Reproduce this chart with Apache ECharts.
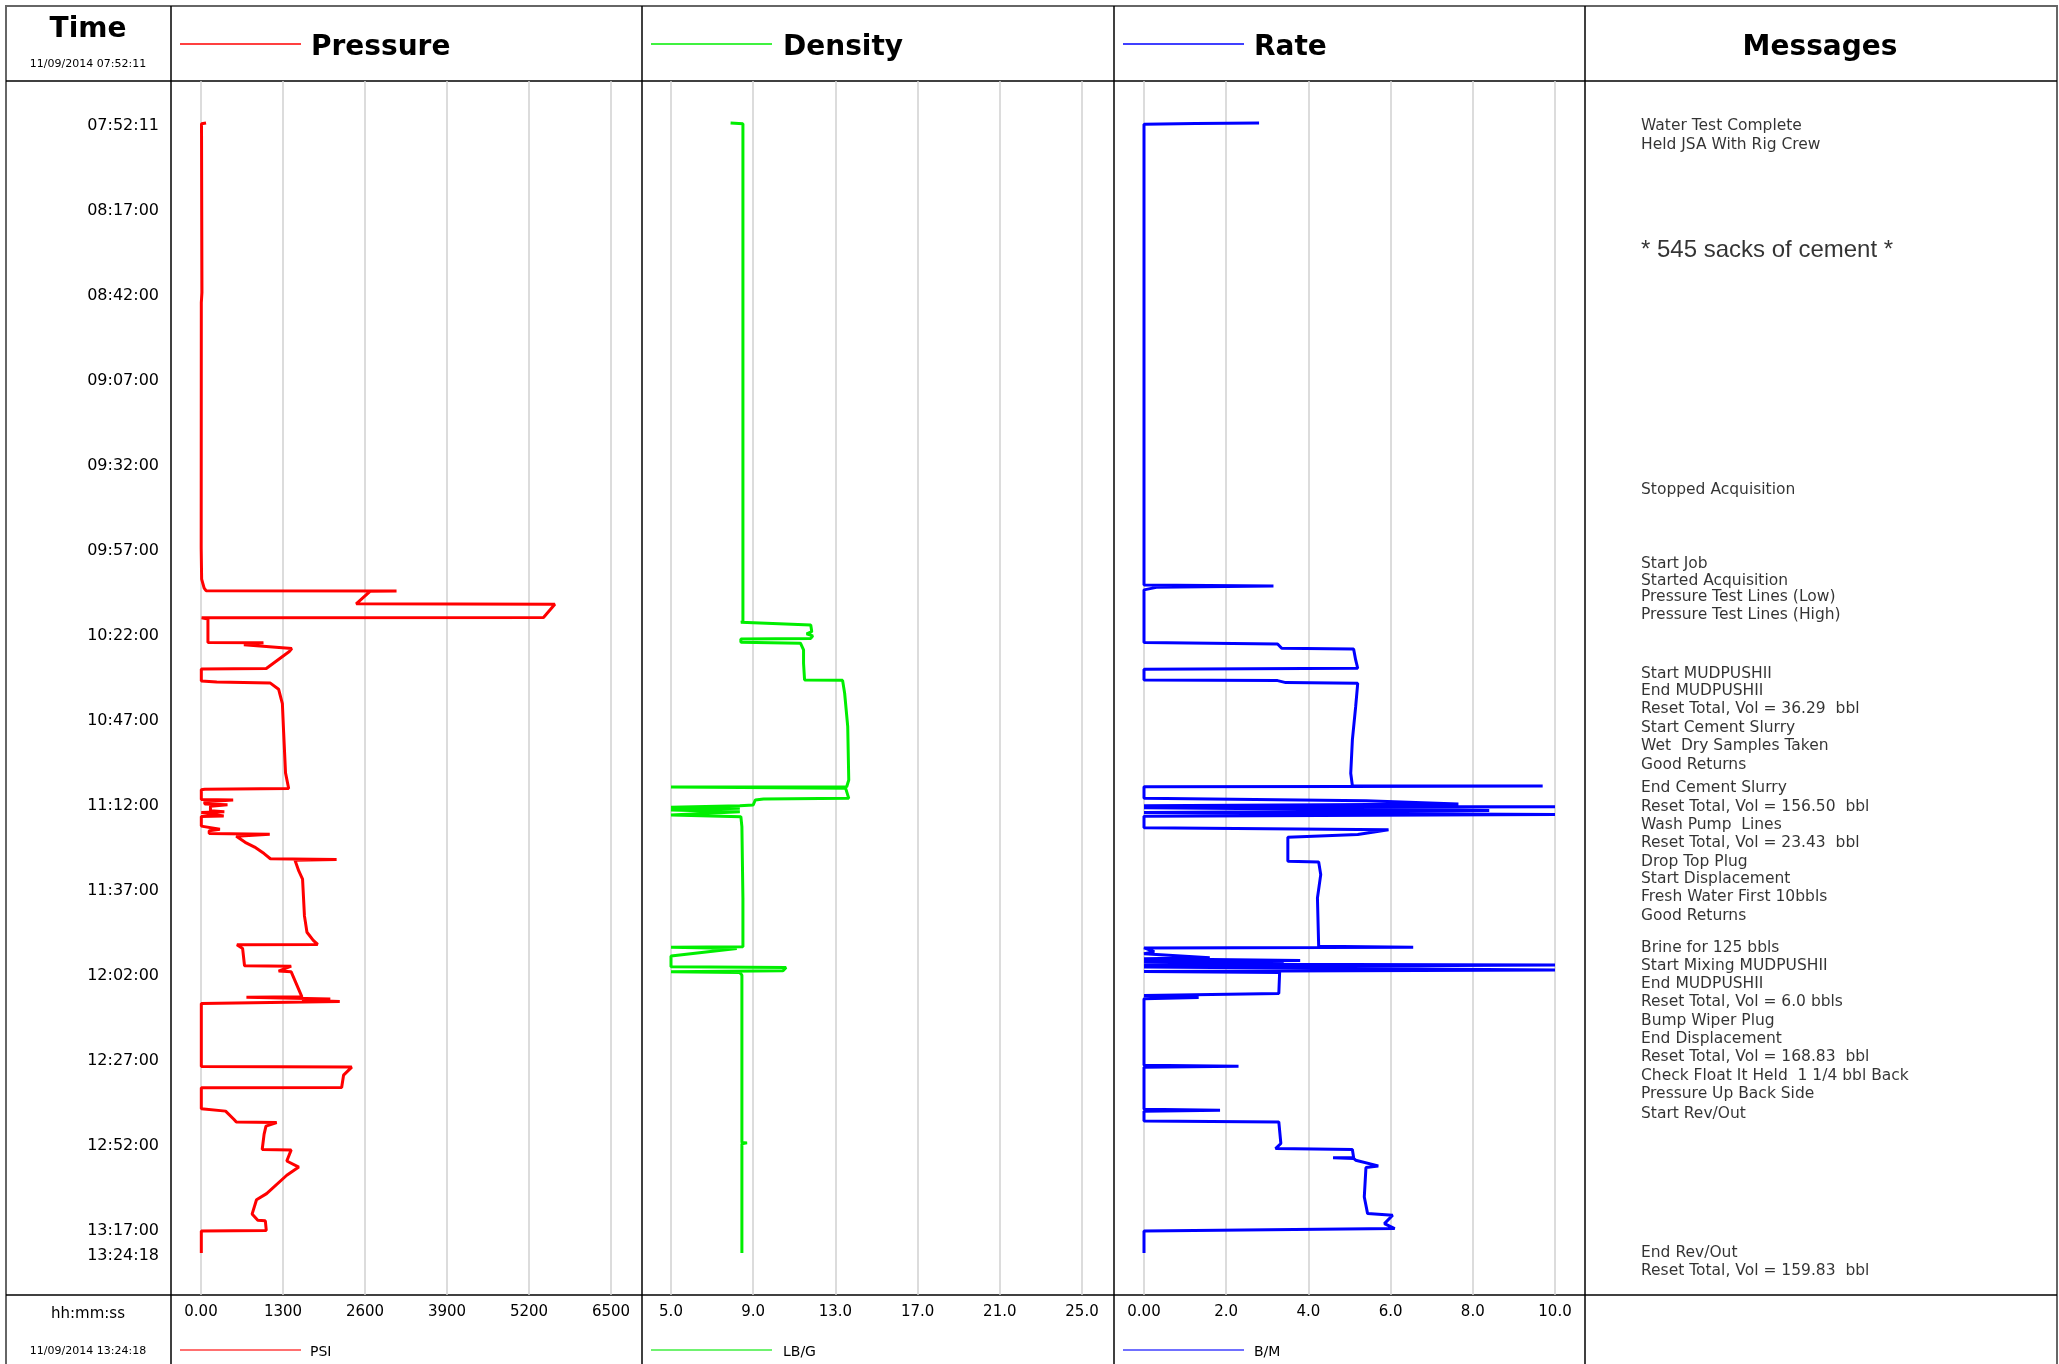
<!DOCTYPE html>
<html>
<head>
<meta charset="utf-8">
<script src="https://cdn.jsdelivr.net/npm/echarts@6/dist/echarts.min.js"></script>
<style>
  html, body { margin: 0; padding: 0; background: #fff; }
  #chart { width: 2059px; height: 1364px; }
</style>
</head>
<body>
<div id="chart"></div>
<script>
// time labels on the left column
const timeLabels = ["07:52:11", "08:17:00", "08:42:00", "09:07:00", "09:32:00", "09:57:00",
  "10:22:00", "10:47:00", "11:12:00", "11:37:00", "12:02:00", "12:27:00",
  "12:52:00", "13:17:00", "13:24:18"];
const startTime = "07:52:11";
const endTime = "13:24:18";

// x axis ticks of the three tracks [min, max, step]
const pressureTicks = [0, 6500, 1300];
const densityTicks = [5, 25, 4];
const rateTicks = [0, 10, 2];

// pressure, PSI  [time, value]
const pressure = [
  ["07:52:11", 80], ["07:52:25", 8], ["08:42:00", 15], ["08:45:00", 5], ["09:57:00", 3],
  ["10:06:14", 10], ["10:08:52", 50], ["10:09:38", 80], ["10:09:42", 3100], ["10:09:50", 2680],
  ["10:13:30", 2460], ["10:13:38", 5610], ["10:17:30", 5430], ["10:17:36", 10], ["10:18:00", 110],
  ["10:24:50", 110], ["10:24:56", 990], ["10:25:30", 680], ["10:26:40", 1440], ["10:27:30", 1400],
  ["10:32:30", 1035], ["10:32:40", 5], ["10:36:12", 5], ["10:36:30", 250], ["10:36:48", 1100],
  ["10:38:36", 1230], ["10:42:48", 1290], ["10:51:12", 1310], ["11:03:12", 1340], ["11:07:48", 1390],
  ["11:08:00", 60], ["11:08:10", 5], ["11:11:00", 5], ["11:11:10", 510], ["11:11:40", 60],
  ["11:12:20", 60], ["11:12:34", 420], ["11:13:00", 150], ["11:14:20", 150], ["11:14:37", 370],
  ["11:14:50", 5], ["11:15:50", 360], ["11:16:00", 5], ["11:18:50", 5], ["11:19:46", 300],
  ["11:20:10", 130], ["11:21:00", 130], ["11:21:13", 1090], ["11:21:49", 560], ["11:23:36", 700],
  ["11:25:00", 850], ["11:26:54", 1000], ["11:28:25", 1100], ["11:28:40", 2150], ["11:28:50", 1490],
  ["11:32:01", 1550], ["11:34:25", 1610], ["11:45:13", 1640], ["11:50:01", 1680], ["11:52:25", 1780],
  ["11:53:36", 1850], ["11:53:42", 570], ["11:54:50", 660], ["11:59:52", 690], ["12:00:00", 1430],
  ["12:01:26", 1230], ["12:01:40", 1430], ["12:09:00", 1600], ["12:09:10", 720], ["12:09:40", 2050],
  ["12:10:00", 1600], ["12:10:25", 2200], ["12:11:00", 5], ["12:29:30", 5], ["12:29:40", 2390],
  ["12:32:02", 2260], ["12:35:38", 2230], ["12:35:45", 5], ["12:41:53", 5], ["12:42:36", 390],
  ["12:45:00", 520], ["12:45:50", 560], ["12:45:58", 1200], ["12:47:02", 1030], ["12:49:26", 1000],
  ["12:53:53", 970], ["12:54:00", 1430], ["12:57:15", 1360], ["12:59:03", 1550], ["13:01:27", 1360],
  ["13:06:51", 1040], ["13:08:39", 880], ["13:12:52", 810], ["13:14:40", 900], ["13:14:50", 1020],
  ["13:17:40", 1035], ["13:17:50", 5], ["13:24:18", 5]
];

// density, LB/G
const density = [
  ["07:52:11", 7.9], ["07:52:25", 8.5], ["08:42:00", 8.5], ["10:18:44", 8.5], ["10:18:54", 8.4],
  ["10:19:42", 11.8], ["10:21:40", 11.85], ["10:22:20", 11.6], ["10:22:56", 11.9], ["10:23:40", 11.8],
  ["10:23:49", 8.4], ["10:24:47", 8.4], ["10:25:05", 11.3], ["10:27:03", 11.45], ["10:30:58", 11.45],
  ["10:35:52", 11.5], ["10:36:00", 13.35], ["10:39:47", 13.45], ["10:49:36", 13.6], ["11:05:17", 13.65],
  ["11:07:15", 13.55], ["11:07:20", 5.0], ["11:07:44", 13.5], ["11:10:40", 13.65], ["11:10:52", 9.5],
  ["11:11:10", 9.1], ["11:12:38", 9.0], ["11:12:50", 8.35], ["11:13:18", 5.0], ["11:13:36", 8.35],
  ["11:14:06", 5.0], ["11:14:35", 8.35], ["11:15:34", 5.0], ["11:16:03", 8.4], ["11:16:32", 8.35],
  ["11:18:59", 8.45], ["11:40:00", 8.5], ["11:54:18", 8.5], ["11:54:25", 5.0], ["11:54:47", 8.2],
  ["11:57:00", 5.0], ["12:00:10", 5.0], ["12:00:22", 10.6], ["12:01:22", 10.45], ["12:01:39", 5.0],
  ["12:01:51", 8.35], ["12:02:38", 8.45], ["12:51:50", 8.45], ["12:51:56", 8.7], ["12:52:10", 8.45],
  ["13:24:18", 8.45]
];

// rate, B/M
const rate = [
  ["07:52:11", 2.8], ["07:52:20", 1.25], ["07:52:35", 0.0], ["10:07:56", 0.0], ["10:08:14", 3.15],
  ["10:08:40", 0.3], ["10:08:55", 0.3], ["10:09:24", 0.0], ["10:24:54", 0.0], ["10:25:17", 3.25],
  ["10:26:33", 3.35], ["10:26:45", 5.1], ["10:30:00", 5.15], ["10:32:26", 5.2], ["10:32:43", 0.0],
  ["10:35:52", 0.0], ["10:36:04", 3.25], ["10:36:39", 3.45], ["10:36:51", 5.2], ["10:43:43", 5.15],
  ["10:53:31", 5.07], ["11:03:19", 5.03], ["11:06:58", 5.07], ["11:07:03", 9.7], ["11:07:10", 5.0],
  ["11:07:15", 0.0], ["11:10:40", 0.0], ["11:11:21", 5.4], ["11:12:20", 7.65], ["11:12:50", 0.0],
  ["11:13:08", 10.0], ["11:13:26", 0.0], ["11:14:14", 8.4], ["11:14:50", 0.0], ["11:15:24", 10.0],
  ["11:15:54", 0.0], ["11:19:21", 0.0], ["11:19:56", 5.95], ["11:21:18", 5.2], ["11:22:05", 3.5],
  ["11:29:09", 3.5], ["11:29:21", 4.25], ["11:33:05", 4.3], ["11:39:58", 4.22], ["11:54:10", 4.25],
  ["11:54:25", 6.55], ["11:54:38", 0.0], ["11:55:45", 0.25], ["11:56:20", 0.0], ["11:57:31", 1.6],
  ["11:57:50", 0.0], ["11:58:18", 3.8], ["11:58:40", 0.0], ["11:59:05", 3.4], ["11:59:20", 0.0],
  ["11:59:40", 10.0], ["12:00:16", 0.0], ["12:01:09", 10.0], ["12:01:33", 0.0], ["12:01:51", 3.3],
  ["12:08:02", 3.28], ["12:08:39", 0.0], ["12:09:12", 1.33], ["12:09:36", 0.0], ["12:29:07", 0.0],
  ["12:29:24", 2.3], ["12:29:42", 0.0], ["12:42:04", 0.0], ["12:42:22", 1.85], ["12:42:40", 0.0],
  ["12:45:29", 0.0], ["12:45:47", 3.28], ["12:52:07", 3.33], ["12:53:36", 3.2], ["12:53:53", 5.07],
  ["12:56:15", 5.1], ["12:56:20", 4.6], ["12:56:30", 5.1], ["12:57:02", 5.15], ["12:58:42", 5.7],
  ["12:59:11", 5.4], ["13:07:49", 5.36], ["13:12:43", 5.44], ["13:13:13", 6.05], ["13:15:40", 5.85],
  ["13:17:08", 6.1], ["13:17:50", 0.0], ["13:24:18", 0.0]
];

// event messages  [time, text]
const messages = [
  ["07:52:11", "Water Test Complete"],
  ["07:57:39", "Held JSA With Rig Crew"],
  ["08:28:50", "* 545 sacks of cement *"],
  ["09:39:07", "Stopped Acquisition"],
  ["10:00:52", "Start Job"],
  ["10:05:52", "Started Acquisition"],
  ["10:10:35", "Pressure Test Lines (Low)"],
  ["10:15:52", "Pressure Test Lines (High)"],
  ["10:33:13", "Start MUDPUSHII"],
  ["10:38:13", "End MUDPUSHII"],
  ["10:43:31", "Reset Total, Vol = 36.29  bbl"],
  ["10:49:06", "Start Cement Slurry"],
  ["10:54:24", "Wet  Dry Samples Taken"],
  ["10:59:59", "Good Returns"],
  ["11:06:45", "End Cement Slurry"],
  ["11:12:20", "Reset Total, Vol = 156.50  bbl"],
  ["11:17:38", "Wash Pump  Lines"],
  ["11:22:55", "Reset Total, Vol = 23.43  bbl"],
  ["11:28:31", "Drop Top Plug"],
  ["11:33:31", "Start Displacement"],
  ["11:38:48", "Fresh Water First 10bbls"],
  ["11:44:23", "Good Returns"],
  ["11:53:48", "Brine for 125 bbls"],
  ["11:59:06", "Start Mixing MUDPUSHII"],
  ["12:04:23", "End MUDPUSHII"],
  ["12:09:41", "Reset Total, Vol = 6.0 bbls"],
  ["12:15:16", "Bump Wiper Plug"],
  ["12:20:34", "End Displacement"],
  ["12:25:51", "Reset Total, Vol = 168.83  bbl"],
  ["12:31:27", "Check Float It Held  1 1/4 bbl Back"],
  ["12:36:44", "Pressure Up Back Side"],
  ["12:42:37", "Start Rev/Out"],
  ["13:23:30", "End Rev/Out"],
  ["13:28:47", "Reset Total, Vol = 159.83  bbl"]
];

const toSec = (s) => {
  const p = s.split(":").map(Number);
  return p[0] * 3600 + p[1] * 60 + p[2];
};
const pad = (n) => (n < 10 ? "0" + n : "" + n);
const toHms = (v) => {
  v = Math.round(v);
  return pad(Math.floor(v / 3600)) + ":" + pad(Math.floor((v % 3600) / 60)) + ":" + pad(v % 60);
};

const font = "DejaVu Sans";
const T0 = toSec(startTime);
const T1 = toSec(endTime);
// plot spans 81..1295 px, data 123..1253 px
const secPerPx = (T1 - T0) / 1130;
const yMin = T0 - 42 * secPerPx;
const yMax = T1 + 42 * secPerPx;

const grids = [
  { left: 201, width: 410, top: 81, height: 1214 },
  { left: 671, width: 411, top: 81, height: 1214 },
  { left: 1144, width: 411, top: 81, height: 1214 },
  { left: 1641, width: 380, top: 81, height: 1214 },
];

function makeX(idx, ticks, fmt) {
  return {
    gridIndex: idx,
    type: "value",
    position: "bottom",
    min: ticks[0],
    max: ticks[1],
    interval: ticks[2],
    axisLine: { show: false },
    axisTick: { show: false },
    splitLine: { show: true, lineStyle: { color: "#d0d0d0", width: 1.5 } },
    axisLabel: { margin: 10, fontSize: 15, fontFamily: font, color: "#000", formatter: fmt },
  };
}

function makeY(idx, showLabels) {
  return {
    gridIndex: idx,
    type: "value",
    inverse: true,
    min: yMin,
    max: yMax,
    axisLine: { show: false },
    axisTick: { show: false },
    splitLine: { show: false },
    axisLabel: showLabels
      ? {
          show: true,
          customValues: timeLabels.map(toSec),
          formatter: (v) => "{t|" + toHms(v) + "}",
          rich: {
            t: { padding: [6, 0, 0, 0], fontSize: 16, fontFamily: font, color: "#000" },
          },
          margin: 42,
          fontSize: 16,
          fontFamily: font,
          color: "#000",
        }
      : { show: false },
  };
}

const lineSeries = (name, data, idx, color) => ({
  name: name,
  type: "line",
  xAxisIndex: idx,
  yAxisIndex: idx,
  data: data.map((d) => [d[1], toSec(d[0])]),
  showSymbol: false,
  symbol: "none",
  lineStyle: { color: color, width: 3 },
  itemStyle: { color: color },
});

const hLine = (x1, x2, y, color, w) => ({
  type: "line",
  shape: { x1: x1, y1: y, x2: x2, y2: y },
  style: { stroke: color, lineWidth: w },
});
const vLine = (x, y1, y2, color, w) => ({
  type: "line",
  shape: { x1: x, y1: y1, x2: x, y2: y2 },
  style: { stroke: color, lineWidth: w },
});
const txt = (text, x, y, size, bold, align, fam) => ({
  type: "text",
  style: {
    text: text,
    x: x,
    y: y,
    fill: "#000",
    font: (bold ? "bold " : "") + size + "px '" + (fam || font) + "'",
    textAlign: align || "left",
    textVerticalAlign: "middle",
  },
});

const chart = echarts.init(document.getElementById("chart"));
chart.setOption({
  animation: false,
  backgroundColor: "#fff",
  grid: grids,
  xAxis: [
    makeX(0, pressureTicks, (v) => (v === 0 ? "0.00" : String(v))),
    makeX(1, densityTicks, (v) => v.toFixed(1)),
    makeX(2, rateTicks, (v) => (v === 0 ? "0.00" : v.toFixed(1))),
    { gridIndex: 3, type: "value", min: 0, max: 1, show: false },
  ],
  yAxis: [makeY(0, true), makeY(1, false), makeY(2, false), makeY(3, false)],
  series: [
    lineSeries("Pressure", pressure, 0, "#ff0000"),
    lineSeries("Density", density, 1, "#00ee00"),
    lineSeries("Rate", rate, 2, "#0000ff"),
    {
      name: "Messages",
      type: "scatter",
      xAxisIndex: 3,
      yAxisIndex: 3,
      symbolSize: 0,
      data: messages.map((m) => {
        const big = m[1].indexOf("sacks") >= 0;
        return {
          name: m[1],
          value: [0, toSec(m[0])],
          label: big ? { fontSize: 24, fontFamily: "Liberation Sans" } : undefined,
        };
      }),
      label: {
        show: true,
        position: "right",
        distance: 0,
        offset: [0, 3],
        formatter: "{b}",
        fontSize: 15.5,
        fontFamily: font,
        color: "#000",
      },
    },
  ],
  graphic: [
    { type: "rect", shape: { x: 6, y: 6, width: 2051, height: 1362 }, style: { fill: "none", stroke: "#666", lineWidth: 2 } },
    hLine(6, 2057, 81, "#000", 1.5),
    hLine(6, 2057, 1295, "#000", 1.5),
    vLine(171, 6, 1364, "#000", 1.5),
    vLine(642, 6, 1364, "#000", 1.5),
    vLine(1114, 6, 1364, "#000", 1.5),
    vLine(1585, 6, 1364, "#000", 1.5),
    txt("Time", 88, 30, 28, true, "center"),
    txt("11/09/2014 07:52:11", 88, 64, 11, false, "center"),
    hLine(180, 301, 44, "#ff0000", 1.5),
    txt("Pressure", 311, 48, 28, true),
    hLine(651, 772, 44, "#00ee00", 1.5),
    txt("Density", 783, 48, 28, true),
    hLine(1123, 1244, 44, "#0000ff", 1.5),
    txt("Rate", 1254, 48, 28, true),
    txt("Messages", 1820, 48, 28, true, "center"),
    txt("hh:mm:ss", 88, 1314, 15, false, "center"),
    txt("11/09/2014 13:24:18", 88, 1351, 11, false, "center"),
    hLine(180, 301, 1350, "#ff4040", 1.5),
    txt("PSI", 310, 1352, 14, false),
    hLine(651, 772, 1350, "#40ee40", 1.5),
    txt("LB/G", 783, 1352, 14, false),
    hLine(1123, 1244, 1350, "#4040ff", 1.5),
    txt("B/M", 1254, 1352, 14, false),
  ],
});
</script>
</body>
</html>
